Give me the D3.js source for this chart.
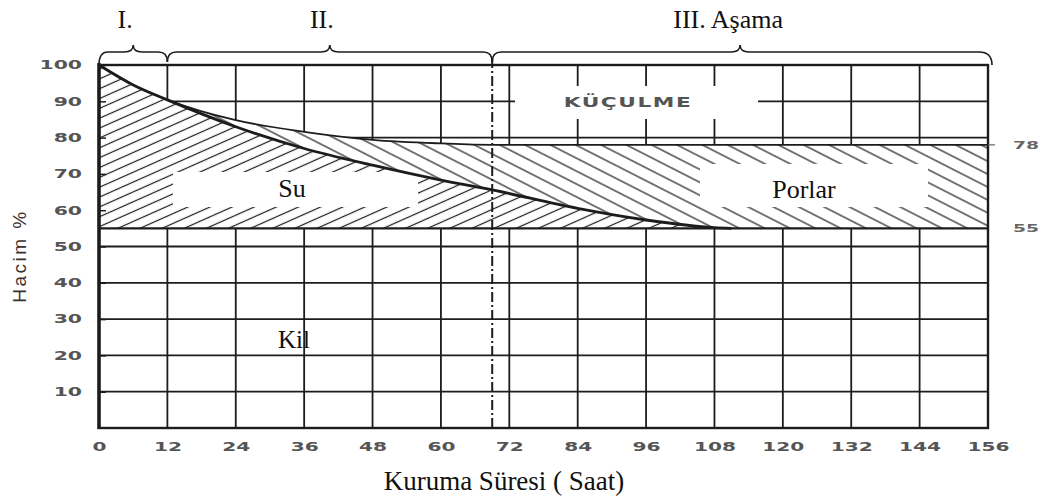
<!DOCTYPE html>
<html><head><meta charset="utf-8">
<script src="https://cdn.jsdelivr.net/npm/d3@7"></script>
<style>
html,body{margin:0;padding:0;background:#fff;}
svg{display:block;}
</style></head>
<body>
<svg id="chart" width="1044" height="501"></svg>
<script>
// ---- data ----
const hourTicks = [0,12,24,36,48,60,72,84,96,108,120,132,144,156];
const pctTicks = [10,20,30,40,50,60,70,80,90,100];
const waterT = [0,6,12,24,36,48,60,69,84,96,108,111];
const waterV = [100,94.5,90.4,83.0,77.0,72.4,68.3,65.6,60.5,57.3,55.2,55];
const shrinkT = [0,6,12,24,36,48,60,69,156];
const shrinkV = [100,94.5,90.4,84.8,81.6,79.4,78.4,78,78];
const clayLevel = 55;
const finalLevel = 78;
const criticalHour = 69;
const stageNames = ["I.","II.","III. Aşama"];
const stageStart = [0,12,69];
const stageEnd = [12,69,156];
const regionNames = ["Su","Porlar","Kil","KÜÇULME"];
const rightLabels = ["78","55"];
const xTitle = "Kuruma Süresi ( Saat)";
const yTitle = "Hacim %";

// ---- scales ----
const svg = d3.select("#chart");
const x = d3.scaleLinear().domain([0,156]).range([99,988]);
const y = d3.scaleLinear().domain([0,100]).range([428,65]);
const ink = "#1c1c1c";

const defs = svg.append("defs");
function hatch(id, angle, gap){
  const p = defs.append("pattern").attr("id",id).attr("patternUnits","userSpaceOnUse")
    .attr("width",30).attr("height",gap).attr("patternTransform",`rotate(${angle})`);
  p.append("line").attr("x1",0).attr("x2",30).attr("y1",gap/2).attr("y2",gap/2)
    .attr("stroke",ink).attr("stroke-width",1.2);
}
hatch("hWater",-24,9);
hatch("hPore",27,11.5);

// ---- grid ----
const grid = svg.append("g").attr("stroke",ink).attr("stroke-width",1.8);
grid.selectAll("line.v").data(hourTicks.filter(h=>h>0&&h<156)).join("line")
  .attr("x1",d=>x(d)).attr("x2",d=>x(d)).attr("y1",y(100)).attr("y2",y(0));
grid.selectAll("line.h").data(pctTicks.filter(p=>p<100)).join("line")
  .attr("x1",x(0)).attr("x2",x(156)).attr("y1",d=>y(d)).attr("y2",d=>y(d));

// ---- hatched regions ----
const waterPts = waterT.map((t,i)=>[t,waterV[i]]);
const shrinkPts = shrinkT.map((t,i)=>[t,shrinkV[i]]);
const lineGen = d3.line().x(d=>x(d[0])).y(d=>y(d[1])).curve(d3.curveMonotoneX);
const areaWater = d3.area().x(d=>x(d[0])).y0(y(clayLevel)).y1(d=>y(d[1])).curve(d3.curveMonotoneX);

const regions = svg.append("g");
// water
regions.append("path").datum(waterPts).attr("d",areaWater).attr("fill","#fff");
regions.append("path").datum(waterPts).attr("d",areaWater).attr("fill","url(#hWater)");
// pores: between shrink line and max(water, clay level)
const poreTop = lineGen(shrinkPts);
const waterPath = lineGen(waterPts.slice().reverse());
const lastWaterT = waterT[waterT.length-1];
const poreD = poreTop + `L${x(156)},${y(clayLevel)}L${x(lastWaterT)},${y(clayLevel)}` + waterPath.replace(/^M/,"L") + "Z";
regions.append("path").attr("d",poreD).attr("fill","#fff");
regions.append("path").attr("d",poreD).attr("fill","url(#hPore)");

// white label boxes in hatch
regions.append("rect").attr("x",173).attr("y",172).attr("width",245).attr("height",35).attr("fill","#fff");
regions.append("rect").attr("x",700).attr("y",164).attr("width",228).attr("height",43).attr("fill","#fff");
// gap in grid around KÜÇÜLME
regions.append("rect").attr("x",515).attr("y",86).attr("width",243).attr("height",33).attr("fill","#fff");

// ---- curves and boundaries ----
svg.append("path").datum(shrinkPts).attr("d",lineGen).attr("fill","none").attr("stroke",ink).attr("stroke-width",1.8);
svg.append("path").datum(waterPts).attr("d",lineGen).attr("fill","none").attr("stroke",ink).attr("stroke-width",2.8);
svg.append("line").attr("x1",x(0)).attr("x2",x(156)).attr("y1",y(clayLevel)).attr("y2",y(clayLevel))
  .attr("stroke",ink).attr("stroke-width",2.4);

// border
svg.append("rect").attr("x",x(0)).attr("y",y(100)).attr("width",x(156)-x(0)).attr("height",y(0)-y(100))
  .attr("fill","none").attr("stroke",ink).attr("stroke-width",2.4);
svg.append("line").attr("x1",x(0)).attr("x2",x(0)).attr("y1",y(100)-2).attr("y2",y(0)+1)
  .attr("stroke",ink).attr("stroke-width",3.5);
// right tick at 78
svg.append("line").attr("x1",x(156)).attr("x2",x(156)+7).attr("y1",y(finalLevel)).attr("y2",y(finalLevel))
  .attr("stroke","#666").attr("stroke-width",1.2);

// critical dash-dot line
svg.append("line").attr("x1",x(criticalHour)).attr("x2",x(criticalHour)).attr("y1",58).attr("y2",y(0))
  .attr("stroke",ink).attr("stroke-width",2).attr("stroke-dasharray","10,3,2,3");

// ---- braces ----
const braceY = 52;
function bracePath(a,b){
  const xa=x(a), xb=x(b), xm=(xa+xb)/2;
  const endY = b===156 ? y(100) : 62;
  const startY = a===0 ? y(100) : 62;
  const r = b===156 ? 4 : 0;
  return `M${xa},${startY}Q${xa},${braceY} ${xa+9},${braceY}L${xm-9},${braceY}Q${xm},${braceY} ${xm},${braceY-7}`+
         `Q${xm},${braceY} ${xm+9},${braceY}L${xb-9},${braceY}Q${xb+r},${braceY} ${xb+r},${endY}`;
}
const braces = svg.append("g");
braces.selectAll("path").data(stageNames).join("path")
  .attr("d",(d,i)=>bracePath(stageStart[i],stageEnd[i]))
  .attr("fill","none").attr("stroke",ink).attr("stroke-width",1.6);
braces.selectAll("text").data(stageNames).join("text")
  .attr("x",(d,i)=>(x(stageStart[i])+x(stageEnd[i]))/2 - (i===2?12:8))
  .attr("y",28).attr("text-anchor","middle")
  .attr("font-family","Liberation Serif").attr("font-size",26).attr("fill","#111")
  .text(d=>d);

// ---- axes ----
const sxY = 1.7, sxX = 1.55;
const yAxis = svg.append("g").attr("transform",`translate(${x(0)},0)`)
  .call(d3.axisLeft(y).tickValues(pctTicks).tickSizeInner(-7).tickSizeOuter(0).tickPadding(17));
yAxis.select(".domain").remove();
yAxis.selectAll(".tick line").attr("stroke",ink).attr("stroke-width",1.5);
yAxis.selectAll("text").attr("x",-17/sxY).attr("transform",`scale(${sxY},1)`)
  .attr("font-family","DejaVu Sans").attr("font-weight","bold").attr("font-size",12).attr("fill","#555");

const xAxis = svg.append("g").attr("transform",`translate(0,${y(0)})`)
  .call(d3.axisBottom(x).tickValues(hourTicks).tickSize(0).tickPadding(14));
xAxis.select(".domain").remove();
xAxis.selectAll("text").attr("transform",`scale(${sxX},1)`)
  .attr("font-family","DejaVu Sans").attr("font-weight","bold").attr("font-size",13).attr("fill","#555");

// right labels
svg.selectAll("text.rl").data(rightLabels).join("text").attr("class","rl")
  .attr("transform",d=>`translate(${x(156)+38},${y(+d)}) scale(1.7,1)`)
  .attr("dy","0.35em").attr("text-anchor","middle")
  .attr("font-family","DejaVu Sans").attr("font-weight","bold").attr("font-size",11).attr("fill","#666")
  .text(d=>d);

// ---- region labels ----
const lab = svg.append("g").attr("font-family","Liberation Serif").attr("fill","#111");
lab.append("text").attr("x",292).attr("y",197).attr("text-anchor","middle").attr("font-size",26).text(regionNames[0]);
lab.append("text").attr("x",804).attr("y",198).attr("text-anchor","middle").attr("font-size",26).text(regionNames[1]);
lab.append("text").attr("x",294).attr("y",348).attr("text-anchor","middle").attr("font-size",25).text(regionNames[2]);
svg.append("text").attr("transform","translate(628,107) scale(1.55,1)").attr("text-anchor","middle")
  .attr("font-family","DejaVu Sans").attr("font-weight","bold").attr("font-size",14).attr("fill","#555")
  .attr("letter-spacing",1).text(regionNames[3]);

// ---- titles ----
svg.append("text").attr("x",504).attr("y",490).attr("text-anchor","middle")
  .attr("font-family","Liberation Serif").attr("font-size",27).attr("fill","#111").text(xTitle);
svg.append("text").attr("transform","translate(26,256) rotate(-90)").attr("text-anchor","middle")
  .attr("font-family","Liberation Sans").attr("font-size",19).attr("letter-spacing",2.5).attr("fill","#3a3030").text(yTitle);
</script>
</body></html>
